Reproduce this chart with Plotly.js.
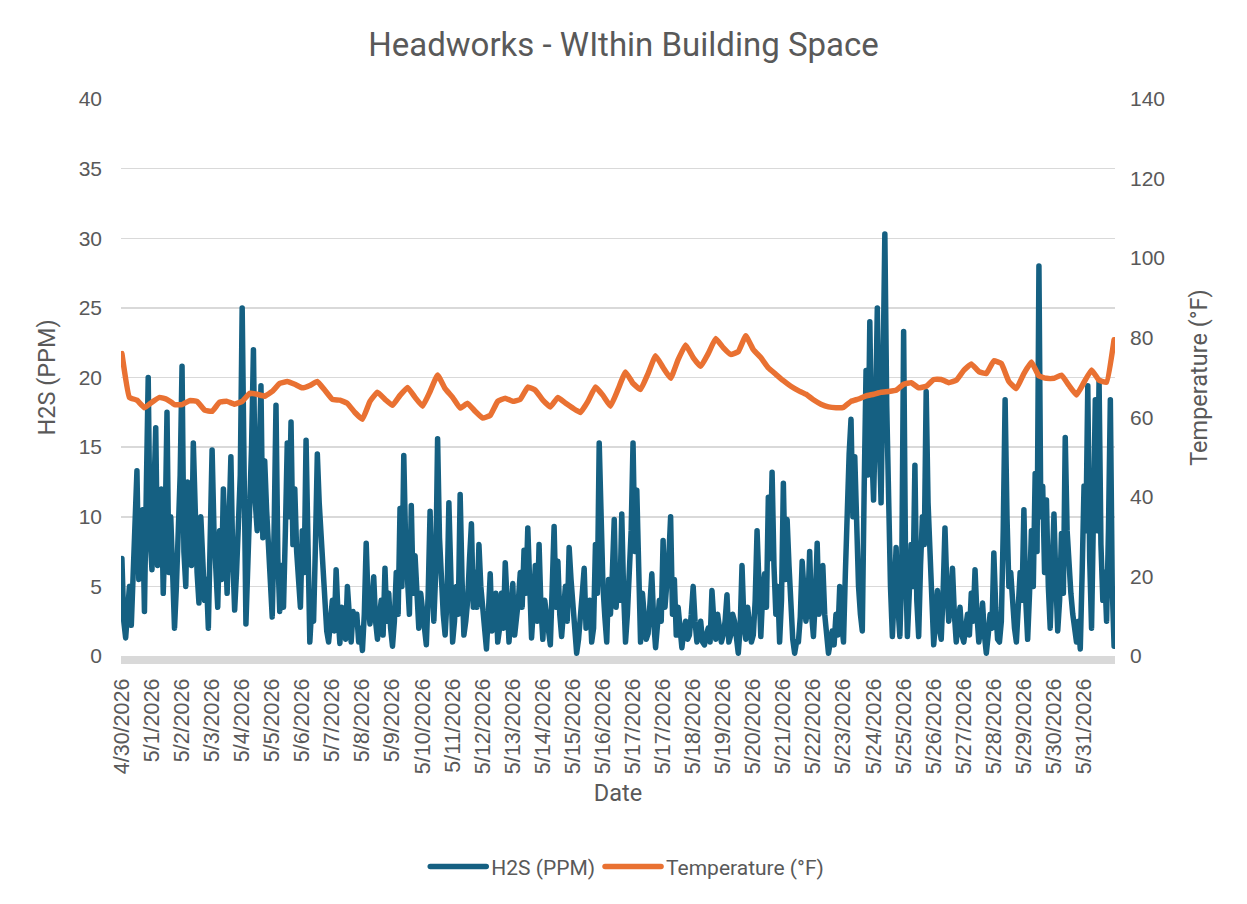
<!DOCTYPE html>
<html>
<head>
<meta charset="utf-8">
<script src="https://cdn.plot.ly/plotly-3.0.1.min.js"></script>
<style>
html,body{margin:0;padding:0;background:#fff;}
#chart{width:1247px;height:904px;}
#chart path.js-line{stroke-linejoin:round !important;stroke-linecap:round !important;}
</style>
</head>
<body>
<div id="chart"></div>
<script>
// Tick labels (category-style date labels, one per label interval)
const dateLabels = ["4/30/2026","5/1/2026","5/2/2026","5/3/2026","5/4/2026","5/5/2026","5/6/2026","5/7/2026","5/8/2026","5/9/2026","5/10/2026","5/11/2026","5/12/2026","5/13/2026","5/14/2026","5/15/2026","5/16/2026","5/17/2026","5/17/2026","5/18/2026","5/19/2026","5/20/2026","5/21/2026","5/22/2026","5/23/2026","5/24/2026","5/25/2026","5/26/2026","5/27/2026","5/28/2026","5/29/2026","5/30/2026","5/31/2026"];

// H2S (PPM): 16 readings per label interval
const h2sPerLabel = 16;
const h2s = [
 7.0,2.5,1.3,4.0,5.0,2.2,6.0,11.0,13.3,5.5,7.0,10.5,3.2,12.0,20.0,8.5,6.2,11.5,16.4,6.5,9.0,12.0,4.5,9.0,17.5,6.0,10.0,5.5,2.0,5.0,8.0,13.0,
 20.8,7.5,5.0,12.5,10.0,6.5,15.3,9.5,6.0,3.8,10.0,7.0,4.0,5.5,2.0,8.5,14.8,9.0,5.0,3.5,9.0,5.5,12.0,7.5,4.5,9.5,14.3,7.0,3.3,6.0,9.0,13.0,
 25.0,12.0,2.3,6.5,10.0,15.0,22.0,11.0,9.0,15.0,19.4,8.5,14.0,10.5,8.0,4.5,2.8,9.0,18.0,7.0,3.2,6.5,3.5,9.0,15.3,10.0,16.8,8.0,12.0,7.5,5.5,3.5,
 9.0,6.0,15.5,5.0,1.0,3.5,2.5,8.0,14.5,11.0,8.5,5.0,3.0,1.8,1.0,2.5,4.0,1.8,6.2,3.0,0.9,3.5,2.5,1.2,5.0,2.8,1.0,3.2,2.5,3.0,1.0,2.0,
 0.4,3.0,8.1,4.0,2.3,3.5,5.7,2.5,1.2,2.8,4.0,1.5,6.3,2.5,4.5,2.0,0.7,2.5,6.0,3.0,10.6,5.0,14.4,8.0,6.0,3.0,10.8,4.5,7.2,4.0,2.0,4.5,
 3.5,2.0,0.8,4.5,10.4,5.5,2.5,6.0,15.6,8.5,5.0,3.0,1.5,4.0,11.0,4.5,1.0,2.5,5.0,3.0,11.6,5.5,1.5,2.5,4.0,7.0,9.5,3.5,6.0,3.5,8.0,5.0,
 3.5,1.5,0.5,3.0,5.9,1.8,3.0,4.5,1.0,2.0,4.5,2.0,6.7,3.0,1.0,3.0,5.2,1.5,2.5,4.0,6.0,3.5,7.6,4.5,9.2,4.0,1.3,3.5,6.5,2.5,8.0,3.5,
 1.2,4.0,3.0,1.5,0.8,5.0,9.3,3.5,6.8,3.0,1.4,3.2,5.0,2.5,7.8,5.5,3.5,1.8,0.2,1.2,2.5,4.5,6.3,2.0,3.0,4.0,1.0,2.0,8.0,4.5,15.3,7.5,
 5.0,2.8,1.0,5.5,3.0,6.0,9.8,3.5,6.0,4.0,10.2,4.5,1.0,3.0,6.5,9.0,15.3,7.5,11.9,5.0,1.0,4.5,3.0,1.2,1.6,3.5,5.9,2.5,0.6,2.2,4.0,2.5,
 8.3,3.5,5.0,7.0,10.0,3.0,5.5,1.5,3.5,2.0,0.6,1.8,2.5,1.2,1.5,3.0,5.0,2.5,1.0,1.8,2.5,1.0,0.8,1.5,2.0,1.0,4.7,2.5,1.2,3.0,2.0,1.0,
 1.5,2.5,4.4,1.0,1.5,3.0,2.5,1.2,0.2,2.0,6.5,2.5,1.2,3.5,2.5,1.0,1.5,4.0,9.0,3.5,1.4,4.5,5.9,3.5,11.4,7.0,13.2,6.5,3.0,5.0,1.0,4.0,
 12.4,5.5,9.8,6.5,3.0,1.2,0.2,1.0,1.0,2.8,6.8,4.0,2.5,3.5,7.5,3.0,1.4,4.0,8.1,3.0,5.0,6.5,3.0,1.5,0.2,1.0,1.8,0.8,3.0,1.5,5.0,2.5,
 1.0,6.0,11.4,14.5,17.0,10.0,14.3,8.0,5.0,3.0,1.8,12.0,20.5,13.0,24.0,15.0,11.2,17.0,25.0,16.0,11.0,20.0,30.3,18.0,9.8,5.0,1.4,4.0,7.8,3.5,1.4,6.0,
 23.3,7.0,1.4,4.5,8.0,5.0,13.7,4.0,1.4,6.5,10.0,8.0,19.0,11.0,7.4,3.0,0.8,2.5,4.7,2.0,1.2,4.5,9.2,5.0,2.5,4.0,6.3,3.0,1.0,2.5,3.5,1.5,
 1.0,2.0,3.0,1.5,4.5,2.5,6.2,3.0,1.0,2.0,3.8,1.5,0.2,1.5,3.0,2.0,7.4,3.5,1.2,1.0,2.5,9.0,18.4,10.0,5.0,6.0,3.0,2.0,1.0,3.0,6.0,4.0,
 10.5,4.0,1.2,4.5,9.0,5.0,13.1,7.5,28.0,10.0,12.2,6.0,11.2,5.0,2.0,6.0,10.2,5.5,1.8,4.0,8.8,4.5,15.7,9.0,6.0,4.5,3.0,1.5,1.0,2.5,0.5,6.0,
 12.2,9.0,19.4,7.0,2.0,10.0,18.4,9.0,19.8,8.0,4.0,6.0,2.5,9.0,18.4,5.0,0.7
];

// Temperature (°F): 4 readings per label interval
const tempPerLabel = 4;
const temperature = [
 76.0,65.0,64.3,62.4,63.8,65.0,64.5,63.2,63.2,64.2,64.0,61.8,61.5,63.8,64.0,63.3,
 64.0,66.0,65.8,65.3,66.5,68.5,69.0,68.3,67.4,68.0,69.0,66.8,64.5,64.3,63.5,61.2,
 59.5,64.0,66.3,64.5,63.0,65.5,67.5,65.0,62.8,66.5,70.6,67.2,65.0,62.3,63.5,61.5,
 59.8,60.5,64.0,64.8,64.0,64.5,67.6,66.8,64.3,62.6,65.0,63.6,62.3,61.2,64.0,67.6,
 65.5,62.8,67.0,71.4,68.5,67.0,71.0,75.5,72.5,69.8,74.5,78.2,75.0,72.8,76.0,79.8,
 77.5,75.8,76.5,80.5,77.0,75.0,72.4,70.8,69.2,67.8,66.7,65.8,64.4,63.3,62.6,62.4,
 62.5,64.0,64.6,65.4,65.8,66.3,66.5,66.8,68.3,68.7,67.4,67.8,69.5,69.5,68.7,69.3,
 71.8,73.4,71.5,71.0,74.2,73.5,69.0,67.2,71.0,73.9,70.4,69.8,69.8,70.6,68.0,65.6,
 68.8,71.9,69.3,68.8,79.5
];

const h2sX = h2s.map((_, i) => i / h2sPerLabel);
const tempX = temperature.map((_, i) => i / tempPerLabel);
const tickVals = dateLabels.map((_, i) => i);

const gray = '#595959';
const gridColor = '#d9d9d9';

const traces = [
  {
    x: h2sX, y: h2s, name: 'H2S (PPM)', type: 'scatter', mode: 'lines',
    line: {color: '#156082', width: 5.5, shape: 'linear'},
    xaxis: 'x', yaxis: 'y', hoverinfo: 'skip'
  },
  {
    x: tempX, y: temperature, name: 'Temperature (°F)', type: 'scatter', mode: 'lines',
    line: {color: '#E97132', width: 5.5, shape: 'spline', smoothing: 0.3},
    xaxis: 'x', yaxis: 'y2', hoverinfo: 'skip'
  }
];

const layout = {
  width: 1247, height: 904,
  paper_bgcolor: '#ffffff', plot_bgcolor: '#ffffff',
  margin: {l: 121, r: 132, t: 99, b: 248, autoexpand: false},
  font: {family: 'Roboto, "Liberation Sans", sans-serif', color: gray},
  title: {
    text: 'Headworks - WIthin Building Space',
    font: {family: 'Roboto, sans-serif', size: 33, color: gray},
    x: 0.5, xanchor: 'center', y: 0.951, yanchor: 'middle'
  },
  showlegend: true,
  legend: {
    orientation: 'h', x: 0.503, xanchor: 'center', xref: 'container',
    y: 0.041, yanchor: 'middle', yref: 'container',
    font: {family: 'Roboto, sans-serif', size: 21, color: gray},
    itemwidth: 56, tracegroupgap: 0, traceorder: 'normal'
  },
  xaxis: {
    range: [-0.03, 33.03],
    tickmode: 'array', tickvals: tickVals, ticktext: dateLabels,
    tickangle: -90,
    tickfont: {family: '"Liberation Sans", Arial, sans-serif', size: 21.5, color: gray},
    showgrid: false, zeroline: false,
    showline: true, linecolor: gridColor, linewidth: 8,
    ticks: '', ticklabelstandoff: 6,
    title: {text: 'Date', font: {family: 'Roboto, sans-serif', size: 23.5, color: gray}, standoff: 14},
    automargin: false,
    fixedrange: true
  },
  yaxis: {
    range: [0, 40], dtick: 5, tick0: 0,
    showgrid: true, gridcolor: gridColor, gridwidth: 1.5,
    zeroline: false, showline: false,
    ticks: '', ticklabelstandoff: 18,
    tickfont: {family: '"Liberation Sans", Arial, sans-serif', size: 21, color: gray},
    title: {text: 'H2S (PPM)', font: {family: 'Roboto, sans-serif', size: 23.5, color: gray}, standoff: 16},
    automargin: false,
    fixedrange: true
  },
  yaxis2: {
    range: [0, 140], dtick: 20, tick0: 0,
    overlaying: 'y', side: 'right',
    showgrid: false, zeroline: false, showline: false,
    ticks: '', ticklabelstandoff: 14,
    tickfont: {family: '"Liberation Sans", Arial, sans-serif', size: 21, color: gray},
    title: {text: 'Temperature (°F)', font: {family: 'Roboto, sans-serif', size: 23.5, color: gray}, standoff: 26},
    automargin: false,
    fixedrange: true
  }
};

Plotly.newPlot('chart', traces, layout, {displayModeBar: false, staticPlot: true});
</script>
</body>
</html>
